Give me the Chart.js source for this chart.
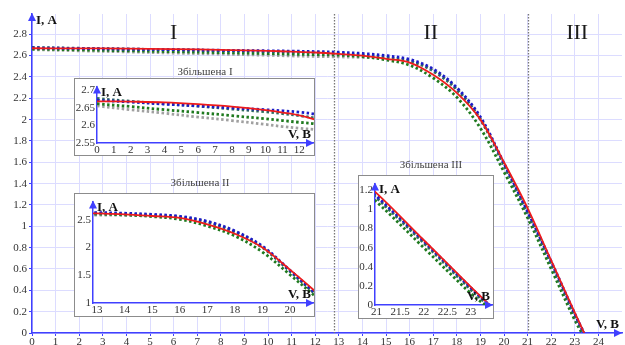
<!DOCTYPE html>
<html>
<head>
<meta charset="utf-8">
<script src="https://cdn.jsdelivr.net/npm/chart.js@4"></script>
<style>
  html,body{margin:0;padding:0;background:#fff;}
  #wrap{position:relative;width:625px;height:345px;overflow:hidden;}
  #wrap canvas{position:absolute;}
  .ttl{position:absolute;font:11px 'Liberation Serif',serif;line-height:12px;color:#444;white-space:nowrap;transform:translateX(-50%);}
</style>
</head>
<body>
<div id="wrap">
  <canvas id="mainChart" width="625" height="345" style="left:0;top:0"></canvas>
  <canvas id="zoomOne" width="241" height="78" style="left:74px;top:78px"></canvas>
  <canvas id="zoomTwo" width="241" height="124" style="left:74px;top:193px"></canvas>
  <canvas id="zoomThree" width="136" height="144" style="left:358px;top:175px"></canvas>
  <div class="ttl" style="left:205px;top:65px">Збільшена І</div>
  <div class="ttl" style="left:200px;top:176px">Збільшена ІІ</div>
  <div class="ttl" style="left:431px;top:158px">Збільшена ІІІ</div>
</div>
<script>
(function(){
  // measured points, V
  const voltage = [0, 2, 4, 6, 8, 10, 11, 12, 13, 14, 15, 16, 17, 18, 19, 20, 21, 22, 23];
  // currents, A (one per voltage), last point of each curve is (Voc, 0)
  const currentRed   = [2.669, 2.668, 2.666, 2.661, 2.654, 2.644, 2.637, 2.629, 2.616, 2.600, 2.570, 2.535, 2.420, 2.250, 2.000, 1.600, 1.170, 0.680, 0.190];
  const currentBlue  = [2.672, 2.667, 2.661, 2.656, 2.650, 2.645, 2.642, 2.638, 2.632, 2.620, 2.600, 2.565, 2.475, 2.300, 2.025, 1.590, 1.140, 0.670, 0.180];
  const currentTeal  = [2.677, 2.669, 2.662, 2.655, 2.647, 2.639, 2.634, 2.628, 2.620, 2.607, 2.585, 2.550, 2.455, 2.280, 2.000, 1.570, 1.120, 0.650, 0.160];
  const currentGreen = [2.662, 2.654, 2.645, 2.637, 2.628, 2.619, 2.614, 2.609, 2.604, 2.590, 2.560, 2.510, 2.390, 2.210, 1.920, 1.510, 1.080, 0.600, 0.120];
  const currentGray  = [2.656, 2.645, 2.635, 2.624, 2.614, 2.603, 2.597, 2.592, 2.588, 2.583, 2.575, 2.550, 2.465, 2.290, 2.010, 1.580, 1.130, 0.655, 0.170];
  const openCircuitV = [23.40, 23.39, 23.37, 23.30, 23.38]; // red, blue, teal, green, gray

  const mainXTicks = [0,1,2,3,4,5,6,7,8,9,10,11,12,13,14,15,16,17,18,19,20,21,22,23,24];
  const mainYTicks = [0,0.2,0.4,0.6,0.8,1,1.2,1.4,1.6,1.8,2,2.2,2.4,2.6,2.8];
  const zoomOneXTicks = [0,1,2,3,4,5,6,7,8,9,10,11,12];
  const zoomOneYTicks = [2.55,2.6,2.65,2.7];
  const zoomTwoXTicks = [13,14,15,16,17,18,19,20];
  const zoomTwoYTicks = [1,1.5,2,2.5];
  const zoomThreeXTicks = [21,21.5,22,22.5,23];
  const zoomThreeYTicks = [0,0.2,0.4,0.6,0.8,1,1.2];

  const regionBounds = [12.8, 21];
  const regionNames = ['I','II','III'];
  const regionNameX = [6, 16.9, 23.1];

  const serif = "'Liberation Serif','Times New Roman',serif";
  const axisBlue = '#4040ff';
  const allCurrents = [currentRed, currentBlue, currentTeal, currentGreen, currentGray];
  const styles = [
    {color:'#ee1c1c', dash:[], width:1.8},
    {color:'#1c1cc8', dash:[2.5,2.5], width:2.8},
    {color:'#2e6b5e', dash:[2.5,2.5], width:2.8},
    {color:'#1f7a1f', dash:[2.5,2.5], width:2.8},
    {color:'#a0a0a0', dash:[2.5,2.5], width:2.8}
  ];

  function points(cur, voc){
    return voltage.map((v,i)=>({x:v, y:cur[i]})).concat([{x:voc, y:0}]);
  }
  function makeSets(){
    return allCurrents.map((cur,i)=>({
      data: points(cur, openCircuitV[i]),
      borderColor: styles[i].color, borderDash: styles[i].dash, borderWidth: styles[i].width,
      borderCapStyle:'butt', pointRadius:0, fill:false, tension:0.35
    }));
  }
  const fmt = v => String(Math.round(v*100)/100);

  function axisDecor(labelFont){
    return {
      id:'axisDecor',
      afterDraw(chart){
        const ctx = chart.ctx, a = chart.chartArea;
        ctx.save();
        ctx.fillStyle = axisBlue;
        ctx.beginPath();
        ctx.moveTo(a.left, a.top-1); ctx.lineTo(a.left-4, a.top+7); ctx.lineTo(a.left+4, a.top+7);
        ctx.closePath(); ctx.fill();
        ctx.beginPath();
        ctx.moveTo(a.right, a.bottom); ctx.lineTo(a.right-8, a.bottom-4); ctx.lineTo(a.right-8, a.bottom+4);
        ctx.closePath(); ctx.fill();
        ctx.fillStyle = '#111';
        ctx.font = labelFont;
        ctx.textBaseline = 'top'; ctx.textAlign = 'left';
        ctx.fillText('I, A', a.left+4, a.top);
        ctx.textBaseline = 'alphabetic'; ctx.textAlign = 'right';
        ctx.fillText('V, B', a.right-3, a.bottom-5);
        ctx.restore();
      }
    };
  }
  const boxDecor = {
    id:'boxDecor',
    beforeDraw(chart){
      const ctx = chart.ctx;
      ctx.save(); ctx.fillStyle='#fff'; ctx.fillRect(0,0,chart.width,chart.height); ctx.restore();
    },
    afterDraw(chart){
      const ctx = chart.ctx;
      ctx.save(); ctx.strokeStyle='#8c8c8c'; ctx.lineWidth=1;
      ctx.strokeRect(0.5,0.5,chart.width-1,chart.height-1); ctx.restore();
    }
  };
  const regions = {
    id:'regions',
    beforeDatasetsDraw(chart){
      const ctx = chart.ctx, a = chart.chartArea, xs = chart.scales.x, ys = chart.scales.y;
      ctx.save();
      ctx.strokeStyle = '#777'; ctx.lineWidth = 1.3; ctx.setLineDash([1.5,1.5]);
      regionBounds.forEach(b=>{
        const px = Math.round(xs.getPixelForValue(b))+0.5;
        ctx.beginPath(); ctx.moveTo(px, a.top); ctx.lineTo(px, a.bottom); ctx.stroke();
      });
      ctx.setLineDash([]);
      ctx.fillStyle = '#1a1a1a'; ctx.font = '22px '+serif;
      ctx.textAlign = 'center'; ctx.textBaseline = 'middle';
      regionNames.forEach((n,i)=>ctx.fillText(n, xs.getPixelForValue(regionNameX[i]), ys.getPixelForValue(2.81)));
      ctx.restore();
    }
  };

  function scaleSet(o){
    return {
      x:{type:'linear', min:o.xMin, max:o.xMax,
         afterBuildTicks:s=>{s.ticks=o.xTicks.map(v=>({value:v}));},
         afterFit:s=>{s.height=o.xHeight;},
         grid:{display:o.grid, color:'#dcdcff', lineWidth:1, drawTicks:true, tickLength:3, tickColor:axisBlue},
         border:{display:true, color:axisBlue, width:1.5},
         ticks:{color:'#333', font:{family:serif, size:o.fs}, padding:o.xPad, maxRotation:0, autoSkip:false, callback:fmt}},
      y:{type:'linear', min:o.yMin, max:o.yMax,
         afterBuildTicks:s=>{s.ticks=o.yTicks.map(v=>({value:v}));},
         afterFit:s=>{s.width=o.yWidth;},
         grid:{display:o.grid, color:'#dcdcff', lineWidth:1, drawTicks:true, tickLength:3, tickColor:axisBlue},
         border:{display:true, color:axisBlue, width:1.5},
         ticks:{color:'#333', font:{family:serif, size:o.fs}, padding:2, autoSkip:false, callback:fmt}}
    };
  }
  function build(id, o, extra){
    const el = document.getElementById(id);
    const sc = scaleSet(o);
    if(!o.grid){
      sc.x.grid = {display:true, drawOnChartArea:false, drawTicks:false, tickLength:0};
      sc.y.grid = {display:true, drawOnChartArea:false, drawTicks:false, tickLength:0};
    }
    return new Chart(el.getContext('2d'), {
      type:'line',
      data:{datasets:makeSets()},
      options:{
        responsive:false, animation:false, devicePixelRatio:1,
        layout:{autoPadding:false, padding:o.pad},
        plugins:{legend:{display:false}, tooltip:{enabled:false}},
        scales:sc
      },
      plugins:extra.concat([axisDecor('bold 13px '+serif)])
    });
  }

  build('mainChart', {xMin:0, xMax:25, yMin:0, yMax:2.99, xTicks:mainXTicks, yTicks:mainYTicks,
    xHeight:12, yWidth:32, grid:true, fs:11, xPad:0, pad:{top:14, right:3, left:0, bottom:0}}, [regions]);
  build('zoomOne', {xMin:0, xMax:12.87, yMin:2.55, yMax:2.711, xTicks:zoomOneXTicks, yTicks:zoomOneYTicks,
    xHeight:13, yWidth:23, grid:false, fs:11, xPad:1, pad:{top:1, right:1, left:0, bottom:0}}, [boxDecor]);
  build('zoomTwo', {xMin:12.855, xMax:20.87, yMin:1, yMax:2.83, xTicks:zoomTwoXTicks, yTicks:zoomTwoYTicks,
    xHeight:14, yWidth:19, grid:false, fs:11, xPad:1, pad:{top:2, right:1, left:0, bottom:0}}, [boxDecor]);
  build('zoomThree', {xMin:20.968, xMax:23.47, yMin:0, yMax:1.27, xTicks:zoomThreeXTicks, yTicks:zoomThreeYTicks,
    xHeight:14, yWidth:17, grid:false, fs:11, xPad:1, pad:{top:1, right:1, left:0, bottom:0}}, [boxDecor]);
})();
</script>
</body>
</html>
